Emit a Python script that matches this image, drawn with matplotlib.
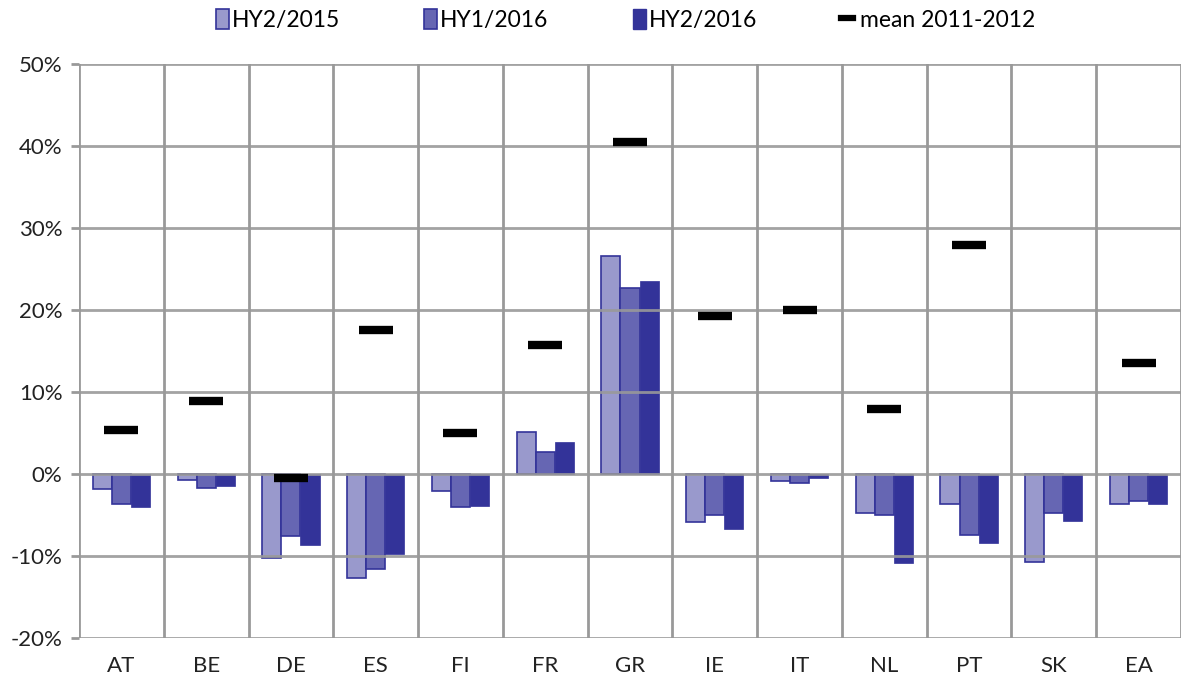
import numpy as np
import matplotlib
matplotlib.use("Agg")
import matplotlib.pyplot as plt
from matplotlib.patches import Patch
from matplotlib.lines import Line2D
from matplotlib.ticker import FuncFormatter

plt.rcParams['font.family'] = ['Lato', 'DejaVu Sans']

# ---------- data (percent) ----------
countries = ["AT", "BE", "DE", "ES", "FI", "FR", "GR", "IE", "IT", "NL", "PT", "SK", "EA"]
hy2_2015 = [-1.8, -0.7, -10.2, -12.7, -2.1, 5.15, 26.6, -5.8, -0.9, -4.8, -3.7, -10.7, -3.6]
hy1_2016 = [-3.6, -1.7, -7.5, -11.6, -4.0, 2.7, 22.7, -5.0, -1.1, -5.0, -7.4, -4.75, -3.3]
hy2_2016 = [-4.0, -1.5, -8.6, -9.7, -3.9, 3.9, 23.5, -6.65, -0.45, -10.9, -8.4, -5.7, -3.6]
mean_2011_2012 = [5.35, 8.9, -0.5, 17.6, 5.0, 15.7, 40.5, 19.3, 20.0, 7.9, 27.9, np.nan, 13.5]
series_labels = ["HY2/2015", "HY1/2016", "HY2/2016", "mean 2011-2012"]

c_light = "#9999cc"
c_mid = "#6666b3"
c_dark = "#333399"
grid_c = "#999999"

fig = plt.figure(figsize=(11.82, 6.8), dpi=100)
ax = fig.add_axes([79 / 1182, 42 / 680, 1102 / 1182, 574 / 680])

x = np.arange(len(countries))
w = 0.225

ax.bar(x - w, hy2_2015, w, color=c_light, edgecolor=c_dark, linewidth=1.2, zorder=2)
ax.bar(x, hy1_2016, w, color=c_mid, edgecolor=c_dark, linewidth=1.2, zorder=2)
ax.bar(x + w, hy2_2016, w, color=c_dark, edgecolor=c_dark, linewidth=0.5, zorder=2)

# mean markers as short thick dashes
ax.plot(x, mean_2011_2012, linestyle="none", marker="_", color="black",
        markersize=25, markeredgewidth=6, zorder=4)

ax.set_xlim(-0.5, len(countries) - 0.5)
ax.set_ylim(-20, 50)
ax.set_yticks(np.arange(-20, 51, 10))
ax.yaxis.set_major_formatter(FuncFormatter(lambda v, p: f"{int(v)}%"))
ax.set_xticks(x)
ax.set_xticklabels(countries)

# grid: horizontal at ticks, vertical at category boundaries
for yv in np.arange(-20, 51, 10):
    ax.axhline(yv, color=grid_c, linewidth=2, zorder=3, alpha=0.9)
for xv in np.arange(-0.5, len(countries), 1.0):
    ax.axvline(xv, color=grid_c, linewidth=2, zorder=3)

for s in ax.spines.values():
    s.set_visible(False)

ax.tick_params(axis="y", length=6, width=2, color=grid_c, labelsize=16, pad=6)
ax.tick_params(axis="x", length=0, labelsize=16, pad=13)
for lab in ax.get_xticklabels() + ax.get_yticklabels():
    lab.set_color("#222222")

# legend: one entry per slot, evenly spaced like the original
handles = [
    Patch(facecolor=c_light, edgecolor=c_dark, linewidth=1.2),
    Patch(facecolor=c_mid, edgecolor=c_dark, linewidth=1.2),
    Patch(facecolor=c_dark, edgecolor=c_dark),
    Line2D([], [], color="black", linewidth=4.5),
]
slots = [205, 413, 622, 830]
for h, lab, px in zip(handles, series_labels, slots):
    is_line = isinstance(h, Line2D)
    fig.legend([h], [lab], loc="upper left", bbox_to_anchor=(px / 1182 - 0.006, 1.013),
               frameon=False, fontsize=16.5, borderpad=0.3,
               handlelength=0.55 if not is_line else 0.5, handleheight=0.9,
               handletextpad=0.15 if not is_line else 0.3)

fig.savefig("out.png", dpi=100)
